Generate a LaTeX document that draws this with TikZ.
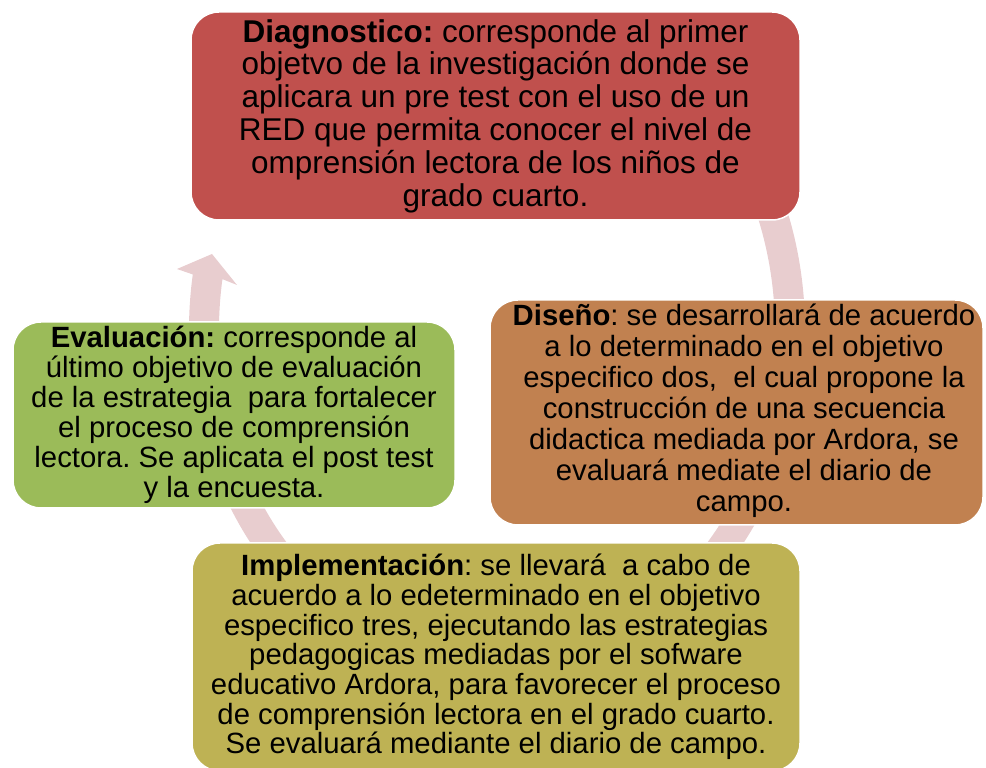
\documentclass[tikz,border=0pt]{standalone}
\usepackage{fontspec}
\setmainfont{Liberation Sans}
\frenchspacing

\definecolor{diagred}{HTML}{C0504D}
\definecolor{disenobrown}{HTML}{C18150}
\definecolor{implolive}{HTML}{BEB254}
\definecolor{evalgreen}{HTML}{9BBB59}
\definecolor{cycpink}{HTML}{E8CDCF}

\tikzset{
	box/.style = {rectangle, rounded corners=28pt, draw=white, line width=1.5pt,
		inner sep=0pt, align=center, text=black},
}

\begin{document}
\begin{tikzpicture}[x=1pt,y=1pt]
	\useasboundingbox (0,0) rectangle (986,768);
	\clip (0,0) rectangle (986,768);

	% circular arrow behind the boxes
	\coordinate (ctr) at (497,438);
	\fill[cycpink] ([shift={(40:308 and 355)}]ctr)
		arc[start angle=40, end angle=-189, x radius=308, y radius=355]
		-- (177,499) -- (212,514) -- (237,483)
		-- ([shift={(-189:278 and 325)}]ctr)
		arc[start angle=-189, end angle=40, x radius=278, y radius=325] -- cycle;

	\node[box, fill=diagred, minimum width=609pt, minimum height=208pt,
		font=\fontsize{31.5}{32.8}\selectfont] (diag) at (495.5,652)
		{\textbf{Diagnostico:} corresponde al primer\\
		objetvo de la investigación donde se\\
		aplicara un pre test con el uso de un\\
		RED que permita conocer el nivel de\\
		omprensión lectora de los niños de\\
		grado cuarto.};

	\node[box, fill=disenobrown, minimum width=493pt, minimum height=225pt,
		font=\fontsize{29.3}{31}\selectfont] (diseno) at (736.5,355.5)
		{\hspace*{15pt}\begin{tabular}{@{}c@{}}
		\textbf{Diseño}: se desarrollará de acuerdo\\
		a lo determinado en el objetivo\\
		especifico dos, \ el cual propone la\\
		construcción de una secuencia\\
		didactica mediada por Ardora, se\\
		evaluará mediate el diario de\\
		campo.\end{tabular}};

	\node[box, fill=implolive, minimum width=608pt, minimum height=228pt,
		font=\fontsize{29.3}{29.7}\selectfont] (impl) at (496,111)
		{\textbf{Implementación}: se llevará \ a cabo de\\
		acuerdo a lo edeterminado en el objetivo\\
		especifico tres, ejecutando las estrategias\\
		pedagogicas mediadas por el sofware\\
		educativo Ardora, para favorecer el proceso\\
		de comprensión lectora en el grado cuarto.\\
		Se evaluará mediante el diario de campo.};

	\node[box, fill=evalgreen, minimum width=442pt, minimum height=186pt,
		font=\fontsize{29.3}{30}\selectfont] (eval) at (234,353)
		{\textbf{Evaluación:} corresponde al\\
		último objetivo de evaluación\\
		de la estrategia \ para fortalecer\\
		el proceso de comprensión\\
		lectora. Se aplicata el post test\\
		y la encuesta.};
\end{tikzpicture}
\end{document}
